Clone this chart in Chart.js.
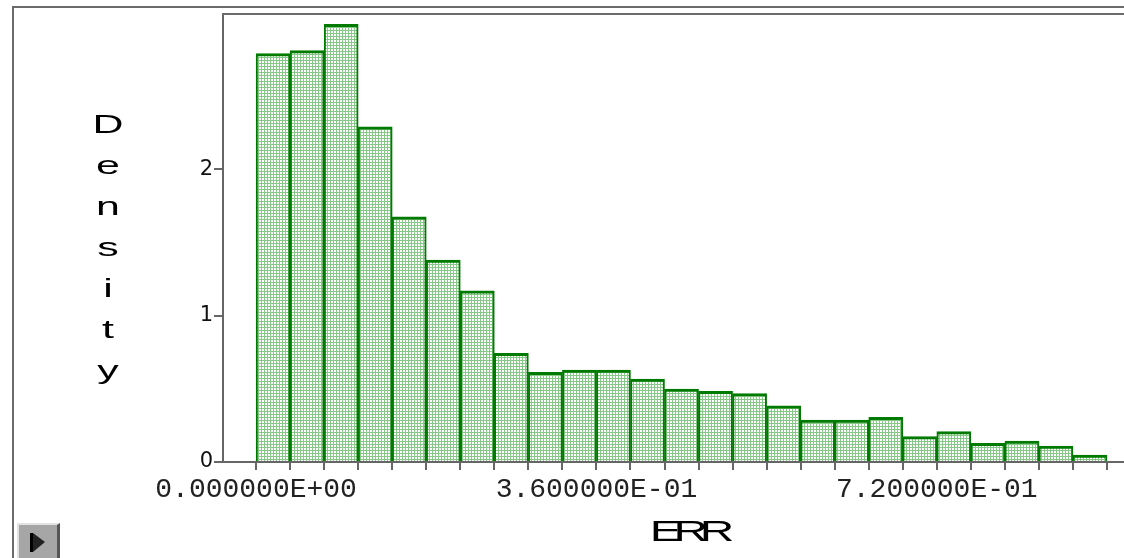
<!DOCTYPE html>
<html>
<head>
<meta charset="utf-8">
<script src="https://cdn.jsdelivr.net/npm/chart.js@4"></script>
<style>
  html, body { margin: 0; padding: 0; background: #fff; overflow: hidden; }
  #wrap { position: relative; width: 1124px; height: 558px; overflow: hidden; }
  #frame { position: absolute; left: 12px; top: 6px; right: -10px; bottom: -10px;
           border-left: 2px solid #6b6b6b; border-top: 2px solid #6b6b6b; }
  canvas { position: absolute; left: 0; top: 0; }
  #ytitle { position: absolute; left: 88px; top: 104px; width: 40px; text-align: center;
            font: 26px "Liberation Sans", Arial, sans-serif; line-height: 41px; color: #000;
            transform: scaleX(1.65); }
  #xtitle { position: absolute; left: 688px; top: 517px; white-space: nowrap;
            font: 29px "Liberation Sans", Arial, sans-serif; line-height: 28px; color: #000;
            letter-spacing: -5px; transform: translateX(-50%) scaleX(1.65); }
  #btn { position: absolute; left: 17px; top: 523px; width: 38px; height: 40px;
         background: #a6a6a6; border-top: 2px solid #e2e2e2; border-left: 2px solid #e2e2e2;
         border-right: 3px solid #555; border-bottom: 3px solid #555; }
  #btn .bar { position: absolute; left: 11px; top: 8px; width: 3px; height: 19px; background: #000; }
  #btn .tri { position: absolute; left: 14px; top: 8px; width: 0; height: 0;
              border-top: 9px solid transparent; border-bottom: 10px solid transparent;
              border-left: 12px solid #222; }
</style>
</head>
<body>
<div id="wrap">
  <div id="frame"></div>
  <canvas id="myChart" width="1124" height="558"></canvas>
  <div id="ytitle">D<br>e<br>n<br>s<br>i<br>t<br>y</div>
  <div id="xtitle">ERR</div>
  <div id="btn"><span class="bar"></span><span class="tri"></span></div>
</div>
<script>
// histogram bins (centres) and heights
const binCenters = [0.018, 0.054, 0.090, 0.126, 0.162, 0.198, 0.234, 0.270, 0.306, 0.342,
                    0.378, 0.414, 0.450, 0.486, 0.522, 0.558, 0.594, 0.630, 0.666, 0.702,
                    0.738, 0.774, 0.810, 0.846, 0.882]
const density = [2.79, 2.81, 2.99, 2.29, 1.675, 1.38, 1.17, 0.742, 0.612, 0.628,
                 0.628, 0.567, 0.498, 0.482, 0.468, 0.384, 0.287, 0.287, 0.305, 0.173,
                 0.207, 0.128, 0.143, 0.109, 0.048]
const binWidth = 0.036
const xLabelled = [0, 0.36, 0.72]
const yTicks = [0, 1, 2]

function sciLabel(v) {
    let s = v.toExponential(6).toUpperCase()
    let [m, e] = s.split('E')
    let sign = e[0]
    let digits = e.slice(1).padStart(2, '0')
    return m + 'E' + sign + digits
}

function makePattern() {
    const c = document.createElement('canvas')
    c.width = 3
    c.height = 3
    const g = c.getContext('2d')
    g.fillStyle = '#86c986'
    g.fillRect(0, 0, 3, 3)
    g.fillStyle = '#ffffff'
    g.fillRect(1, 1, 2, 2)
    return g.createPattern(c, 'repeat')
}

// top edge of the plot frame
const frameTop = {
    id: 'frameTop',
    afterDraw(chart) {
        const { ctx, chartArea } = chart
        ctx.save()
        ctx.strokeStyle = '#6b6b6b'
        ctx.lineWidth = 2
        ctx.beginPath()
        ctx.moveTo(chartArea.left - 1, chartArea.top)
        ctx.lineTo(chart.width, chartArea.top)
        ctx.stroke()
        ctx.restore()
    }
}

const ctx = document.getElementById('myChart')
new Chart(ctx, {
    type: 'bar',
    data: {
        datasets: [{
            label: 'Density',
            data: binCenters.map((x, i) => ({ x: x, y: density[i] })),
            backgroundColor: makePattern(),
            borderColor: '#007a00',
            borderWidth: { top: 3, left: 2, right: 2, bottom: 0 },
            borderSkipped: false,
            barPercentage: 1,
            categoryPercentage: 1
        }]
    },
    options: {
        responsive: false,
        animation: false,
        layout: { padding: { top: 14, left: 0, right: 0, bottom: 0 } },
        plugins: { legend: { display: false }, tooltip: { enabled: false } },
        scales: {
            x: {
                type: 'linear',
                min: -0.035,
                max: 0.918,
                offset: false,
                afterFit(scale) { scale.height = 96 },
                grid: { offset: false, drawOnChartArea: false, drawTicks: true, tickLength: 8, color: '#666', lineWidth: 2 },
                border: { display: true, color: '#666', width: 2 },
                ticks: {
                    stepSize: binWidth,
                    includeBounds: false,
                    autoSkip: false,
                    maxRotation: 0,
                    padding: 3,
                    color: '#222',
                    font: { family: '"Liberation Mono", "Courier New", monospace', size: 28, lineHeight: 1.2 },
                    callback: (v) => xLabelled.some(t => Math.abs(t - v) < 1e-9) ? sciLabel(v) : ''
                }
            },
            y: {
                min: 0,
                max: 3.06,
                afterFit(scale) { scale.width = 223 },
                afterBuildTicks(scale) { scale.ticks = yTicks.map(v => ({ value: v })) },
                grid: { drawOnChartArea: false, drawTicks: true, tickLength: 9, color: '#666', lineWidth: 2 },
                border: { display: true, color: '#666', width: 2 },
                ticks: {
                    padding: 1,
                    color: '#111',
                    font: { family: '"DejaVu Sans", Verdana, sans-serif', size: 21 }
                }
            }
        }
    },
    plugins: [frameTop]
})
</script>
</body>
</html>
